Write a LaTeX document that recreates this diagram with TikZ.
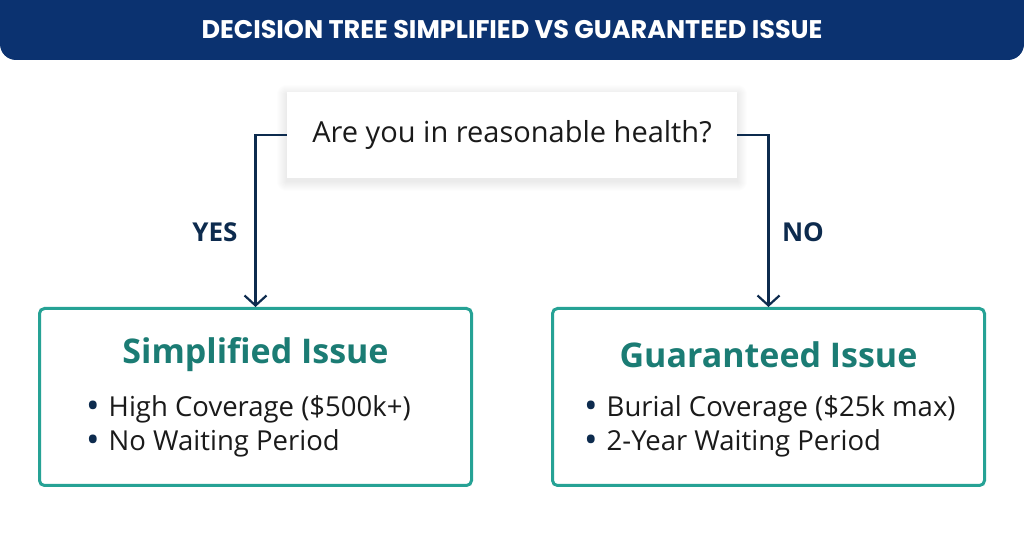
\documentclass[tikz,border=0pt]{standalone}
\usepackage{fontspec}
\setmainfont{Open Sans}
\newfontfamily\headfont{Poppins}
\usepackage{tikz}
\usetikzlibrary{positioning,arrows.meta,backgrounds}
\definecolor{headblue}{HTML}{0B3270}
\definecolor{navy}{HTML}{0D2B4E}
\definecolor{tealline}{HTML}{26A295}
\definecolor{tealtext}{HTML}{1B7C74}
\definecolor{ink}{HTML}{1A1A1A}
\newcommand{\dotitem}{\raisebox{-2pt}{\fontsize{36}{34}\selectfont\textcolor{navy}{\textbullet}}\hspace{9pt}}

\begin{document}
\begin{tikzpicture}[
  x=1pt, y=1pt,
  qbox/.style={fill=white, minimum width=450pt, minimum height=86pt, inner sep=0pt,
    font=\fontsize{29}{34}\selectfont, text=ink},
  resbox/.style={draw=tealline, line width=3pt, rounded corners=5pt, fill=white,
    minimum width=432pt, minimum height=177pt, inner sep=0pt},
  restitle/.style={font=\fontsize{34}{40}\selectfont\bfseries, text=tealtext},
  points/.style={anchor=west, align=left, inner sep=0pt, font=\fontsize{27.5}{34}\selectfont, text=ink},
  answer/.style={font=\fontsize{26}{30}\selectfont\bfseries, text=navy},
  arr/.style={-{Straight Barb[length=10pt, width=22pt]}, line width=2.2pt, draw=navy}
]
\useasboundingbox (0,0) rectangle (1024,559);
% header band
\fill[headblue] (0,559) -- (1024,559) -- (1024,515) arc[start angle=0, end angle=-90, radius=16]
  -- (16,499) arc[start angle=270, end angle=180, radius=16] -- cycle;
\node[text=white, font=\headfont\fontsize{25.5}{30}\selectfont\bfseries] (title) at (512,529)
  {DECISION TREE SIMPLIFIED VS GUARANTEED ISSUE};

\node[qbox] (ask) at (512,424) {Are you in reasonable health?};
% soft shadow under the question
\begin{pgfonlayer}{background}
\foreach \s in {1,...,10}
  \fill[black, opacity=0.008, rounded corners=\s pt]
    ([shift={(-\s,-\s-3)}]ask.south west) rectangle ([shift={(\s,\s-3)}]ask.north east);
\end{pgfonlayer}

\node[resbox] (simpl) at (255.5,162) {};
\node[resbox] (guar) at (768.5,162) {};
\node[restitle] (simpltitle) at (255.5,204) {Simplified Issue};
\node[restitle] (guartitle) at (768.5,204) {Guaranteed Issue};
\node[points] (simplpts) at (86,133) {\dotitem High Coverage (\$500k+)\\\dotitem No Waiting Period};
\node[points] (guarpts) at (584,133) {\dotitem Burial Coverage (\$25k max)\\\dotitem 2-Year Waiting Period};

\draw[arr] (ask.west) -| (simpl.north);
\draw[arr] (ask.east) -| (guar.north);
\node[answer] (yes) at (215,327) {YES};
\node[answer] (no) at (803,327) {NO};
\end{tikzpicture}
\end{document}
